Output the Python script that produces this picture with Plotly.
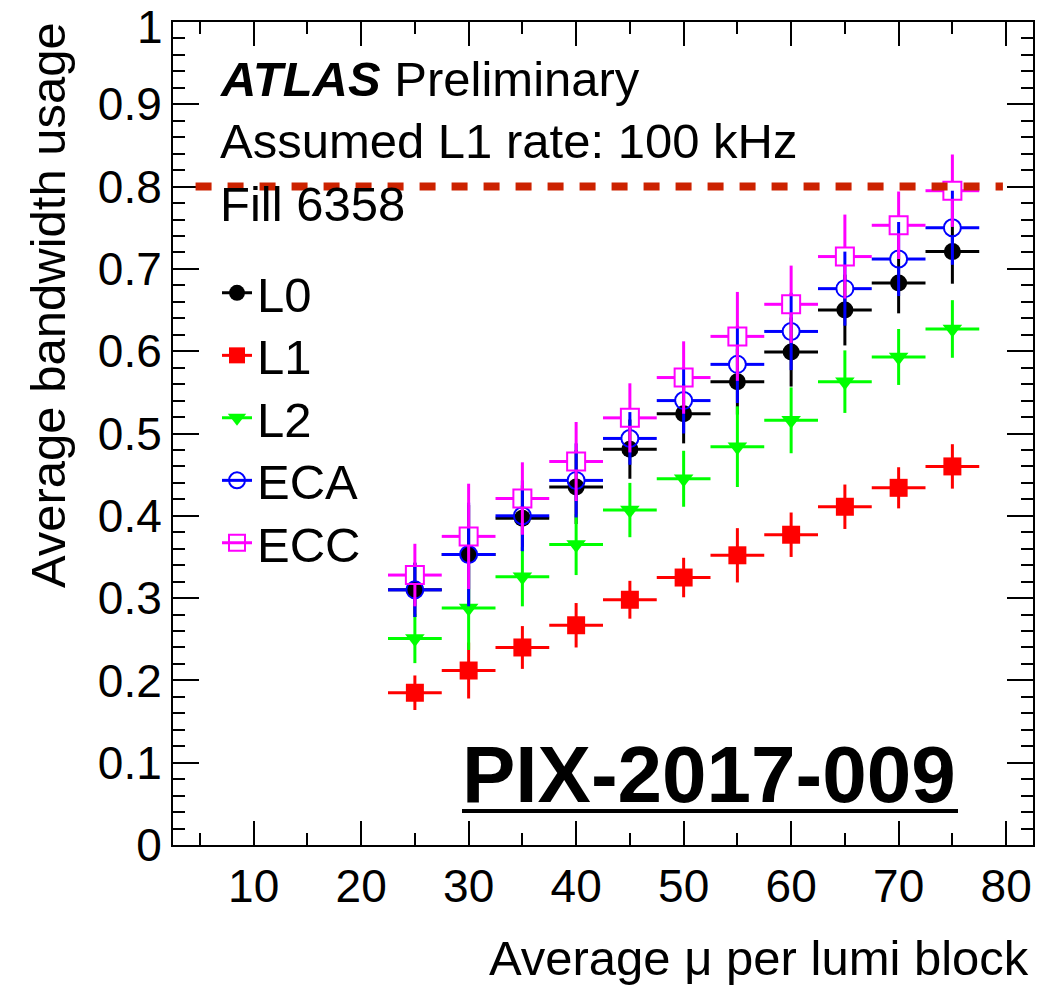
import plotly.graph_objects as go

# ---------------- data ----------------
mu = [25, 30, 35, 40, 45, 50, 55, 60, 65, 70, 75]
mu_half_bin = 2.5

L0 = [0.310, 0.353, 0.397, 0.435, 0.481, 0.524, 0.563, 0.599, 0.650, 0.683, 0.721]
L0_err = [0.033, 0.060, 0.040, 0.045, 0.036, 0.036, 0.040, 0.042, 0.043, 0.037, 0.039]

L1 = [0.185, 0.212, 0.240, 0.267, 0.298, 0.325, 0.352, 0.377, 0.411, 0.434, 0.460]
L1_err = [0.021, 0.034, 0.026, 0.027, 0.023, 0.024, 0.033, 0.027, 0.027, 0.025, 0.027]

L2 = [0.251, 0.288, 0.326, 0.365, 0.407, 0.445, 0.484, 0.516, 0.563, 0.593, 0.627]
L2_err = [0.030, 0.051, 0.036, 0.037, 0.033, 0.034, 0.049, 0.040, 0.038, 0.034, 0.035]

ECA = [0.310, 0.353, 0.400, 0.443, 0.494, 0.540, 0.584, 0.624, 0.676, 0.712, 0.750]
ECA_err = [0.033, 0.063, 0.043, 0.045, 0.032, 0.040, 0.047, 0.047, 0.045, 0.045, 0.045]

ECC = [0.328, 0.375, 0.421, 0.466, 0.519, 0.568, 0.618, 0.657, 0.715, 0.753, 0.795]
ECC_err = [0.038, 0.064, 0.044, 0.048, 0.042, 0.044, 0.054, 0.047, 0.051, 0.041, 0.044]

bandwidth_limit = 0.8
limit_x = [4.6, 79.7]

x_range = [2.5, 82.5]
y_range = [0.0, 1.0]
x_ticks = [10, 20, 30, 40, 50, 60, 70, 80]
y_ticks = [0, 0.1, 0.2, 0.3, 0.4, 0.5, 0.6, 0.7, 0.8, 0.9, 1]
y_tick_labels = ["0", "0.1", "0.2", "0.3", "0.4", "0.5", "0.6", "0.7", "0.8", "0.9", "1"]

# ---------------- layout constants ----------------
W, H = 1058, 988
ML, MR, MT, MB = 173, 25, 22, 143
FONT = "Liberation Sans, Arial, Helvetica, sans-serif"
px_per_x = (W - ML - MR) / (x_range[1] - x_range[0])
px_per_y = (H - MT - MB) / (y_range[1] - y_range[0])

series = [
    ("L0", L0, L0_err, "#000000", "circle", 17, False),
    ("L1", L1, L1_err, "#ff0000", "square", 18, False),
    ("L2", L2, L2_err, "#00ff00", "triangle-down", 17, False),
    ("ECA", ECA, ECA_err, "#0000ff", "circle-open", 17, True),
    ("ECC", ECC, ECC_err, "#ff00ff", "square-open", 18, True),
]

fig = go.Figure()

for name, vals, errs, col, sym, size, is_open in series:
    if is_open:
        # ROOT-style error bars that stop at the marker edge
        gx = (size / 2) / px_per_x
        gy = (size / 2) / px_per_y
        xs, ys = [], []
        for x, y, e in zip(mu, vals, errs):
            xs += [x - mu_half_bin, x - gx, None, x + gx, x + mu_half_bin, None]
            ys += [y, y, None, y, y, None]
            if e > gy:
                xs += [x, x, None, x, x, None]
                ys += [y - e, y - gy, None, y + gy, y + e, None]
        fig.add_trace(go.Scatter(x=xs, y=ys, mode="lines",
                                 line=dict(color=col, width=3),
                                 showlegend=False, hoverinfo="skip"))
        fig.add_trace(go.Scatter(x=mu, y=vals, mode="markers",
                                 marker=dict(symbol=sym, size=size, color=col,
                                             line=dict(color=col, width=2)),
                                 showlegend=False))
    else:
        fig.add_trace(go.Scatter(
            x=mu, y=vals, mode="markers",
            marker=dict(symbol=sym, size=size, color=col, line=dict(width=0)),
            error_x=dict(type="constant", value=mu_half_bin, width=0, thickness=3, color=col),
            error_y=dict(type="data", array=errs, width=0, thickness=3, color=col),
            showlegend=False))

def px_to_paper_x(px):
    return (px - ML) / (W - ML - MR)

def px_to_paper_y(py):
    return (H - MB - py) / (H - MT - MB)

# legend entries (line + marker like ROOT "lep"), one legend box per row
legend_rows_px = [293, 355.5, 418, 480.5, 543]
legend_layouts = {}
for i, (name, vals, errs, col, sym, size, is_open) in enumerate(series):
    lname = "legend" if i == 0 else f"legend{i + 1}"
    fig.add_trace(go.Scatter(
        x=[None], y=[None], mode="lines+markers", name=name, legend=lname,
        line=dict(color=col, width=3),
        marker=dict(symbol=sym, size=size, color=col,
                    line=dict(color=col, width=2 if is_open else 0)),
        showlegend=True))
    legend_layouts[lname] = dict(
        x=px_to_paper_x(217), y=px_to_paper_y(legend_rows_px[i]),
        xanchor="left", yanchor="middle",
        bgcolor="rgba(0,0,0,0)", borderwidth=0,
        font=dict(family=FONT, size=49, color="black"),
        itemwidth=30)

# dashed bandwidth limit
fig.add_shape(type="line", xref="x", yref="y",
              x0=limit_x[0], x1=limit_x[1], y0=bandwidth_limit, y1=bandwidth_limit,
              line=dict(color="#cc2200", width=8, dash="16px,16px"))

axis_common = dict(showline=True, linecolor="black", linewidth=2, mirror="ticks",
                   ticks="inside", tickcolor="black", tickwidth=2,
                   showgrid=False, zeroline=False, ticklabeloverflow="allow",
                   automargin=False,
                   tickfont=dict(family=FONT, size=46, color="black"))

# the top label "1" is placed slightly lower (as ROOT does) to stay inside the canvas
y_tick_text_shown = [t if v != y_range[1] else "" for v, t in zip(y_ticks, y_tick_labels)]

fig.update_xaxes(range=x_range, tickmode="array", tickvals=x_ticks, ticklen=24,
                 minor=dict(ticks="inside", tickmode="linear", tick0=0, dtick=5,
                            ticklen=12, tickwidth=2, tickcolor="black"),
                 **axis_common)
fig.update_yaxes(range=y_range, tickmode="array", tickvals=y_ticks, ticktext=y_tick_text_shown,
                 ticklen=26,
                 minor=dict(ticks="inside", tickmode="linear", tick0=0, dtick=0.02,
                            ticklen=12, tickwidth=2, tickcolor="black"),
                 **axis_common)

ann = []
ann.append(dict(text=y_tick_labels[-1], x=px_to_paper_x(165), y=px_to_paper_y(27),
                xanchor="right", yanchor="middle", font=dict(size=46)))
ann.append(dict(text="<b><i>ATLAS</i></b> Preliminary", x=px_to_paper_x(218), y=px_to_paper_y(79),
                xanchor="left", yanchor="middle", font=dict(size=49)))
ann.append(dict(text="Assumed L1 rate: 100 kHz", x=px_to_paper_x(218), y=px_to_paper_y(141),
                xanchor="left", yanchor="middle", font=dict(size=49)))
ann.append(dict(text="Fill 6358", x=px_to_paper_x(218), y=px_to_paper_y(204),
                xanchor="left", yanchor="middle", font=dict(size=49)))
ann.append(dict(text="<b>PIX-2017-009</b>", x=px_to_paper_x(709), y=px_to_paper_y(774),
                xanchor="center", yanchor="middle", font=dict(size=80)))
ann.append(dict(text="Average bandwidth usage", x=px_to_paper_x(48), y=px_to_paper_y(20),
                xanchor="center", yanchor="top", textangle=-90, font=dict(size=49)))
ann.append(dict(text="Average μ per lumi block", x=px_to_paper_x(1031), y=px_to_paper_y(958),
                xanchor="right", yanchor="middle", font=dict(size=49)))
for a in ann:
    a.update(xref="paper", yref="paper", showarrow=False)
    a["font"].update(family=FONT, color="black")

# underline of the note number
fig.add_shape(type="line", xref="paper", yref="paper",
              x0=px_to_paper_x(462), x1=px_to_paper_x(958),
              y0=px_to_paper_y(811), y1=px_to_paper_y(811),
              line=dict(color="black", width=4))

fig.update_layout(
    width=W, height=H,
    margin=dict(l=ML, r=MR, t=MT, b=MB, pad=0, autoexpand=False),
    paper_bgcolor="white", plot_bgcolor="white",
    font=dict(family=FONT, color="black"),
    annotations=ann,
    **legend_layouts,
)

fig.write_html("out.html")
